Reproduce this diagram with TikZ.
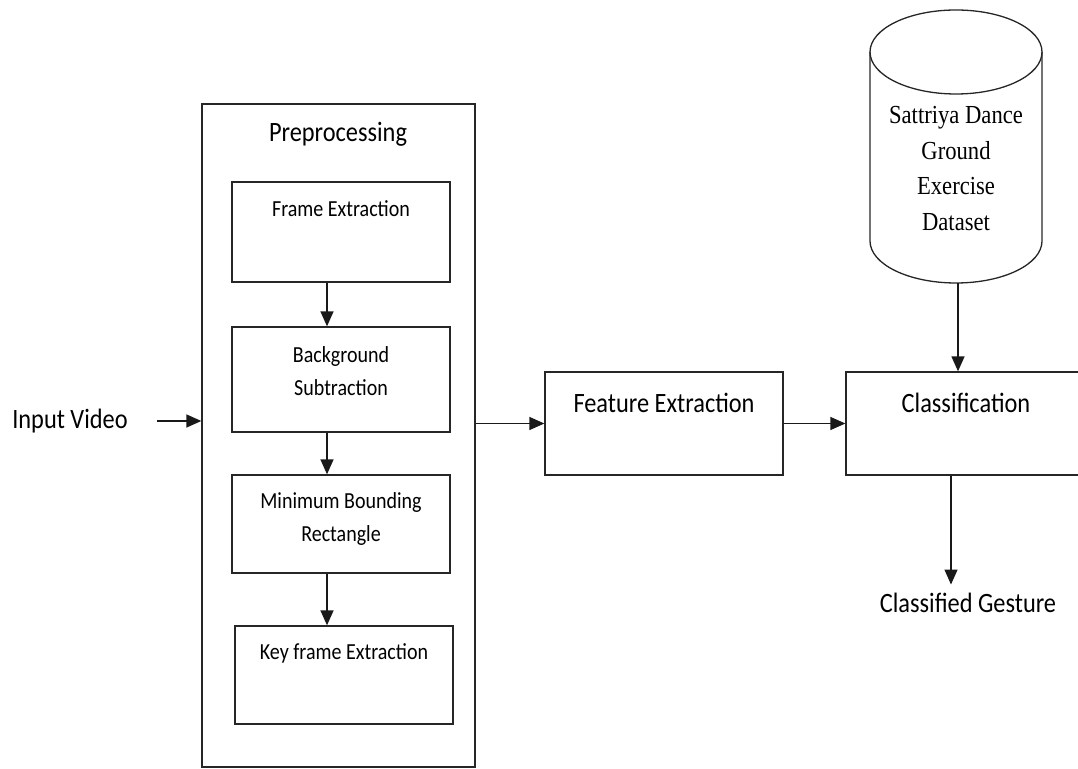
\documentclass[tikz,border=0pt]{standalone}
\usepackage{fontspec}
\setmainfont{Carlito}[FakeStretch=0.87]
\newfontfamily\dbfont{Liberation Serif}[FakeStretch=0.87]
\usetikzlibrary{arrows.meta,calc}
\begin{document}
\begin{tikzpicture}[x=1pt,y=1pt,
  line width=1.3pt,
  box/.style={draw=black!85, line width=1.3pt, inner sep=0pt},
  arr/.style={draw=black!90, line width=1.4pt, -{Triangle[length=15pt,width=13pt]}},
  big/.style={font=\fontsize{28}{33}\selectfont, inner sep=0pt, align=center},
  small/.style={font=\fontsize{23}{33}\selectfont, inner sep=0pt, align=center},
  dbtext/.style={font=\dbfont\fontsize{26}{35.7}\selectfont, inner sep=0pt, align=center}]
\useasboundingbox (0,0) rectangle (1078,768);

% preprocessing container
\node[box, minimum width=273pt, minimum height=663pt] (pre) at (338.5,332.5) {};
\node[big] (pret) at (338,634) {Preprocessing};

% inner steps
\node[box, minimum width=218pt, minimum height=100pt] (fr) at (341,536) {};
\node[small] (frt) at (341,559) {Frame Extraction};
\node[box, minimum width=218pt, minimum height=105pt] (bg) at (341,388.5) {};
\node[small] (bgt) at (341,397) {Background\\Subtraction};
\node[box, minimum width=218pt, minimum height=98pt] (mbr) at (341,244) {};
\node[small] (mbrt) at (341,249) {Minimum Bounding\\Rectangle};
\node[box, minimum width=218pt, minimum height=98pt] (kf) at (344,93) {};
\node[small] (kft) at (344,115) {Key frame Extraction};

\coordinate (ax) at (327,0);
\draw[arr] (fr.south -| ax) -- (bg.north -| ax);
\draw[arr] (bg.south -| ax) -- (mbr.north -| ax);
\draw[arr] (mbr.south -| ax) -- (kf.north -| ax);

% input
\node[big] (in) at (70,347) {Input Video};
\draw[arr] ([xshift=29pt]in.east) -- (pre.west |- in.east);

% feature extraction
\node[box, minimum width=238pt, minimum height=103pt] (fx) at (664,344.5) {};
\node[big] (fxt) at (664,365) {Feature Extraction};
\draw[arr] (pre.east |- fx.west) -- (fx.west);

% classification (cut by the right edge)
\node[box, minimum width=240pt, minimum height=103pt] (cl) at (966,344.5) {};
\node[big] (clt) at (966,365) {Classification};
\draw[arr] (fx.east) -- (fx.east -| cl.west);

% database cylinder
\draw[draw=black!85, line width=1.3pt]
  (870,716) -- (870,527) arc[start angle=180, end angle=360, x radius=86, y radius=42] -- (1042,716);
\draw[draw=black!85, line width=1.3pt] (956,716) ellipse[x radius=86, y radius=42];
\node[dbtext] (db) at (956,599.5) {Sattriya Dance\\Ground\\Exercise\\Dataset};
\coordinate (dbb) at (958,485);
\draw[arr] (dbb) -- (cl.north -| dbb);

% output
\node[big] (cg) at (968,165) {Classified Gesture};
\coordinate (ax2) at (951,0);
\draw[arr] (cl.south -| ax2) -- ([yshift=8pt]cg.north -| ax2);
\end{tikzpicture}
\end{document}
